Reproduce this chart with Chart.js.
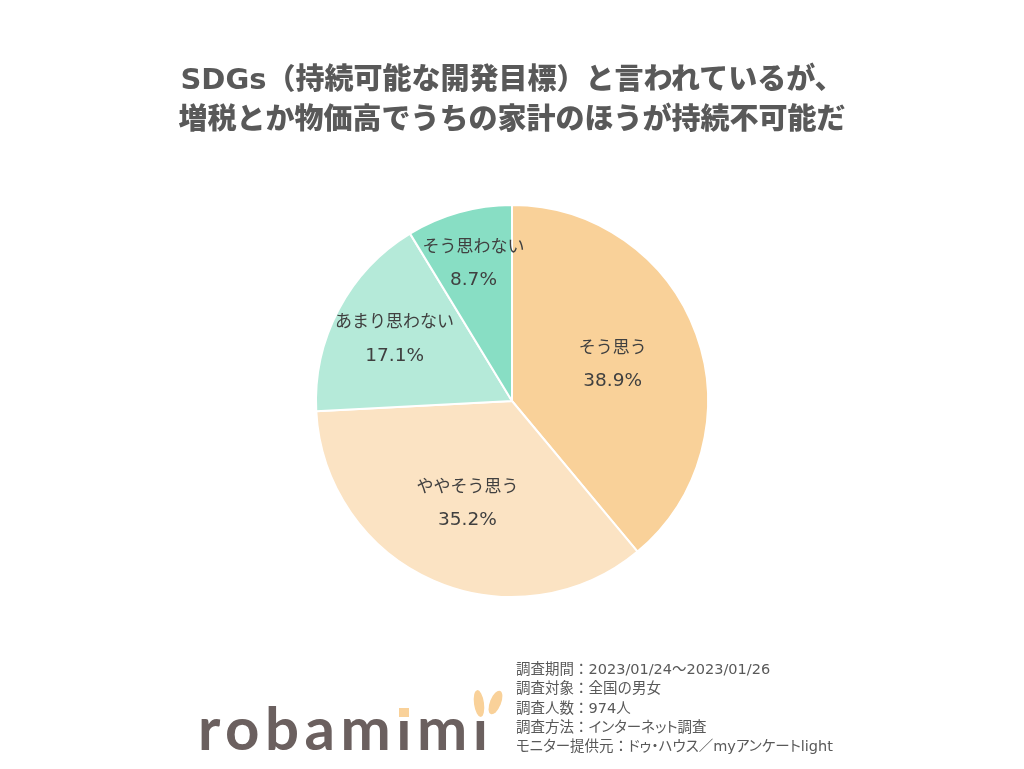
<!DOCTYPE html>
<html>
<head>
<meta charset="utf-8">
<script src="https://cdn.jsdelivr.net/npm/chart.js@4/dist/chart.umd.min.js"></script>
<style>
  body { margin: 0; background: #fff; }
  #wrap { position: relative; width: 1024px; height: 769px; overflow: hidden; }
  #myChart { position: absolute; left: 0; top: 0; }
  .title {
    position: absolute; left: 0; width: 1024px; text-align: center;
    font-family: "DejaVu Sans", "Noto Sans CJK JP", sans-serif; font-weight: 900;
    font-size: 29px; color: #595959; line-height: 40px; top: 59px;
  }
  .note {
    position: absolute; left: 516px; top: 660px;
    font-family: "DejaVu Sans", "Noto Sans CJK JP", sans-serif; font-size: 14.5px;
    font-feature-settings: "palt";
    color: #595959; line-height: 19.3px; white-space: nowrap;
  }
  .note b { font-weight: normal; font-feature-settings: normal; }
  .logo {
    position: absolute; left: 198px; top: 687px;
    font-family: "Lato", "Noto Sans", sans-serif; font-weight: bold; font-size: 60px;
    color: #6b605f; letter-spacing: 5.5px; line-height: 80px;
  }
  .logo span { position: relative; }
  .cover { position: absolute; background: #fff; left: -2px; top: 6px; width: 20px; height: 24px; }
  .dot { position: absolute; background: #f9d199; left: 3px; top: 17px; width: 10px; height: 9px; }
  .ear { position: absolute; background: #f9d199; border-radius: 50%; }
</style>
</head>
<body>
<div id="wrap">
  <canvas id="myChart" width="1024" height="769"></canvas>
  <div class="title">SDGs（持続可能な開発目標）と言われているが、<br>増税とか物価高でうちの家計のほうが持続不可能だ</div>
  <div class="logo">robam<span>i<i class="cover"></i><i class="dot"></i></span>m<span>i<i class="cover"></i></span></div>
  <div class="ear" style="left:474px; top:690px; width:10px; height:27px; transform:rotate(-8deg);"></div>
  <div class="ear" style="left:490px; top:690px; width:11px; height:25px; transform:rotate(22deg);"></div>
  <div class="note"><b>調査期間：</b>2023/01/24～2023/01/26<br><b>調査対象：全国の男女</b><br><b>調査人数：</b>974人<br><b>調査方法：</b>インターネット調査<br>モニター提供元<b>：</b>ドゥ・ハウス／myアンケートlight</div>
</div>
<script>
  const labels = ['そう思う', 'ややそう思う', 'あまり思わない', 'そう思わない'];
  const values = [38.9, 35.2, 17.1, 8.7];
  const colors = ['#f9d199', '#fbe3c3', '#b5ead9', '#88dec4'];

  // labels inside each slice, small slices pushed outwards
  const sliceLabels = {
    id: 'sliceLabels',
    afterDatasetsDraw(chart) {
      const ctx = chart.ctx;
      const meta = chart.getDatasetMeta(0);
      const total = values.reduce((a, b) => a + b, 0);
      ctx.save();
      ctx.fillStyle = '#404040';
      ctx.textAlign = 'center';
      ctx.textBaseline = 'middle';
      meta.data.forEach((arc, i) => {
        const mid = (arc.startAngle + arc.endAngle) / 2;
        const r = arc.outerRadius * (0.78 - 0.6 * values[i] / total);
        const x = arc.x + Math.cos(mid) * r;
        const y = arc.y + Math.sin(mid) * r;
        ctx.font = '17px "DejaVu Sans", "Noto Sans CJK JP", sans-serif';
        ctx.fillText(labels[i], x, y - 16);
        ctx.font = '18.5px "DejaVu Sans", sans-serif';
        ctx.fillText(values[i].toFixed(1) + '%', x, y + 17);
      });
      ctx.restore();
    }
  };

  const data = {
    labels: labels,
    datasets: [{
      data: values,
      backgroundColor: colors,
      borderColor: '#ffffff',
      borderWidth: 2,
    }]
  };

  const config = {
    type: 'pie',
    data: data,
    options: {
      responsive: false,
      animation: false,
      layout: {
        padding: { top: 204, bottom: 171 }
      },
      plugins: {
        legend: { display: false },
        tooltip: { enabled: false },
      }
    },
    plugins: [sliceLabels]
  };

  const myChart = new Chart(
    document.getElementById('myChart'),
    config
  );
</script>
</body>
</html>
